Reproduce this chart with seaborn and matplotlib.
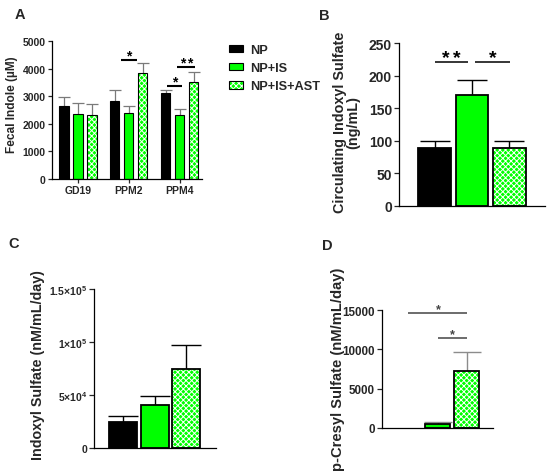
import numpy as np
import pandas as pd
import matplotlib
matplotlib.use("Agg")
import matplotlib.pyplot as plt
import seaborn as sns
from matplotlib.patches import Rectangle, Patch
from matplotlib.container import BarContainer
from matplotlib.legend_handler import HandlerTuple

# ---------------- data ----------------
treatments = ["NP", "NP+IS", "NP+IS+AST"]
timepoints = ["GD19", "PPM2", "PPM4"]

# Panel A: fecal indole (uM), mean and SEM per timepoint
a_np = [2630, 2810, 3130]
a_np_sem = [350, 400, 90]
a_is = [2355, 2400, 2330]
a_is_sem = [385, 240, 190]
a_ast = [2330, 3850, 3510]
a_ast_sem = [390, 360, 350]

# Panel B: circulating indoxyl sulfate (ng/mL)
b_mean = [89, 170, 89]
b_sem = [10, 23.5, 10]

# Panel C: indoxyl sulfate (nM/mL/day)
c_mean = [24800, 40600, 74200]
c_sem = [5100, 8800, 22700]

# Panel D: p-cresyl sulfate (nM/mL/day)
d_mean = [0, 550, 7240]
d_sem = [0, 200, 2460]

# significance annotations: (x start, x end, y, label)
a_sig = [(0.84, 1.15, 4320, "*"), (1.75, 2.05, 3380, "*"), (1.95, 2.29, 4070, "**")]
b_sig = [(0.01, 0.90, 221, "**"), (1.08, 2.01, 221, "*")]
d_sig = [(0.0, 2.03, 14600, "*"), (1.0, 2.03, 11400, "*")]

a_yticks = [0, 1000, 2000, 3000, 4000, 5000]
b_yticks = [0, 50, 100, 150, 200, 250]
c_yticks = [0, 50000, 100000, 150000]
c_yticklabels = ["0", r"5×10$^{4}$", r"1×10$^{5}$", r"1.5×10$^{5}$"]
d_yticks = [0, 5000, 10000, 15000]

# ---------------- style ----------------
sns.set_style("ticks")
plt.rcParams["font.family"] = ["Liberation Sans", "DejaVu Sans"]
plt.rcParams["font.weight"] = "bold"
plt.rcParams["axes.labelweight"] = "bold"
plt.rcParams["hatch.linewidth"] = 0.7
plt.rcParams["mathtext.fontset"] = "custom"
plt.rcParams["mathtext.rm"] = "Liberation Sans:bold"
plt.rcParams["mathtext.bf"] = "Liberation Sans:bold"
plt.rcParams["mathtext.it"] = "Liberation Sans:bold"
plt.rcParams["mathtext.default"] = "rm"

GREEN = "#00FF00"
palette = {"NP": "#000000", "NP+IS": GREEN, "NP+IS+AST": GREEN}
CHECK = "xxxxxx"

fig = plt.figure(figsize=(5.5, 4.77), dpi=100)
W, H = 550, 477


def axes_px(left, top, right, bottom):
    return fig.add_axes([left / W, 1 - bottom / H, (right - left) / W, (bottom - top) / H])


def finish_bars(ax, df, xcol, order, edge_lw, ecolor, elw, capsize):
    conts = [c for c in ax.containers if isinstance(c, BarContainer)]
    for ci, cont in enumerate(conts):
        level = treatments[ci]
        sub = df[df["treatment"] == level]
        for bar in cont:
            cx = bar.get_x() + bar.get_width() / 2
            idx = int(round(cx))
            xval = order[idx]
            row = sub[sub[xcol] == xval]
            if len(row) == 0:
                continue
            sem = float(row["sem"].iloc[0])
            h = bar.get_height()
            if h == 0:
                bar.set_visible(False)
                continue
            if level == "NP+IS+AST":
                bar.set_hatch(CHECK)
                bar.set_edgecolor("white")
                bar.set_linewidth(0)
                ax.add_patch(Rectangle(bar.get_xy(), bar.get_width(), h, fill=False,
                                       edgecolor="black", lw=edge_lw,
                                       zorder=bar.get_zorder() + 0.1))
            if sem > 0:
                eb = ax.errorbar([cx], [h], yerr=[[0], [sem]], fmt="none", ecolor=ecolor,
                                 elinewidth=elw, capsize=capsize, capthick=elw,
                                 zorder=bar.get_zorder() - 0.5)
                caps = eb[1]
                if len(caps) > 0:
                    caps[0].set_visible(False)


def style_axis(ax, lw=0.9):
    sns.despine(ax=ax)
    for s in ["left", "bottom"]:
        ax.spines[s].set_linewidth(lw)
        ax.spines[s].set_color("black")
    ax.set_xlabel("")


def sig(ax, items, color, lw, fs, spacing, dy):
    for x0, x1, y, lab in items:
        ax.plot([x0, x1], [y, y], color=color, lw=lw, solid_capstyle="butt")
        n = len(lab)
        mid = (x0 + x1) / 2
        for k in range(n):
            dx = (k - (n - 1) / 2) * spacing
            ax.annotate("*", xy=(mid, y), xytext=(dx, dy), textcoords="offset points",
                        ha="center", va="baseline", fontsize=fs, fontweight="bold",
                        color=color)


# ---------------- Panel A ----------------
dfa = pd.DataFrame({
    "time": timepoints * 3,
    "treatment": [t for t in treatments for _ in timepoints],
    "value": a_np + a_is + a_ast,
    "sem": a_np_sem + a_is_sem + a_ast_sem,
})
axA = axes_px(51.7, 42, 202, 180)
sns.barplot(data=dfa, x="time", y="value", hue="treatment", order=timepoints,
            hue_order=treatments, palette=palette, width=0.825, gap=0.35, saturation=1,
            errorbar=None, edgecolor="black", linewidth=0.8, legend=False, ax=axA)
finish_bars(axA, dfa, "time", timepoints, 0.8, "#7a7a7a", 0.9, 4.5)
axA.set_xlim(-0.517, 2.436)
axA.set_ylim(0, 5000)
axA.set_yticks(a_yticks)
axA.tick_params(axis="both", labelsize=7.5, length=3, width=0.9, pad=1.5)
style_axis(axA)
axA.set_ylabel("Fecal Indole (µM)", fontsize=8.6)
axA.yaxis.label.set_va("center")
axA.yaxis.set_label_coords(-0.262, 0.545)
sig(axA, a_sig, "black", 1.5, 10, 4.8, 0)

hA = [Patch(facecolor="black", edgecolor="black", lw=0.8),
      Patch(facecolor=GREEN, edgecolor="black", lw=0.8),
      (Patch(facecolor=GREEN, edgecolor="white", lw=0, hatch=CHECK),
       Patch(facecolor="none", edgecolor="black", lw=0.8))]
leg = fig.legend(hA, treatments, loc="upper left", bbox_to_anchor=(229 / W, 1 - 45 / H),
                 frameon=False, fontsize=9.2, handlelength=1.1, handleheight=0.55,
                 handletextpad=0.55, labelspacing=0.48, borderpad=0, borderaxespad=0,
                 handler_map={tuple: HandlerTuple(ndivide=1, pad=0)})

# ---------------- Panel B ----------------
dfb = pd.DataFrame({"treatment": treatments, "value": b_mean, "sem": b_sem})
axB = axes_px(399, 44, 545, 207)
sns.barplot(data=dfb, x="treatment", y="value", hue="treatment", order=treatments,
            hue_order=treatments, palette=palette, width=0.88, dodge=False, saturation=1,
            errorbar=None, edgecolor="black", linewidth=1.3, legend=False, ax=axB)
finish_bars(axB, dfb, "treatment", treatments, 1.3, "black", 1.0, 10.5)
axB.set_xlim(-0.95, 2.95)
axB.set_ylim(0, 250)
axB.set_yticks(b_yticks)
axB.set_xticks([])
axB.tick_params(axis="y", labelsize=10, length=3.5, width=0.9, pad=1.5)
style_axis(axB)
axB.set_ylabel("Circulating Indoxyl Sulfate\n(ng/mL)", fontsize=10.4, linespacing=0.95)
axB.yaxis.label.set_va("center")
axB.yaxis.set_label_coords(-0.356, 0.518)
sig(axB, b_sig, "black", 1.1, 14, 7.9, 0)

# ---------------- Panel C ----------------
dfc = pd.DataFrame({"treatment": treatments, "value": c_mean, "sem": c_sem})
axC = axes_px(94, 290, 216, 449)
sns.barplot(data=dfc, x="treatment", y="value", hue="treatment", order=treatments,
            hue_order=treatments, palette=palette, width=0.88, dodge=False, saturation=1,
            errorbar=None, edgecolor="black", linewidth=1.3, legend=False, ax=axC)
finish_bars(axC, dfc, "treatment", treatments, 1.3, "black", 1.0, 10.5)
axC.set_xlim(-0.91, 2.93)
axC.set_ylim(0, 150000)
axC.set_yticks(c_yticks)
axC.set_yticklabels(c_yticklabels)
axC.set_xticks([])
axC.tick_params(axis="y", labelsize=7.5, length=3.5, width=0.9, pad=1.5)
style_axis(axC)
axC.set_ylabel("Indoxyl Sulfate (nM/mL/day)", fontsize=10.3)
axC.yaxis.label.set_va("center")
axC.yaxis.set_label_coords(-0.459, 0.528)

# ---------------- Panel D ----------------
dfd = pd.DataFrame({"treatment": treatments, "value": d_mean, "sem": d_sem})
axD = axes_px(382, 311, 493, 429)
sns.barplot(data=dfd, x="treatment", y="value", hue="treatment", order=treatments,
            hue_order=treatments, palette=palette, width=0.86, dodge=False, saturation=1,
            errorbar=None, edgecolor="black", linewidth=1.3, legend=False, ax=axD)
finish_bars(axD, dfd, "treatment", treatments, 1.3, "#8c8c8c", 1.0, 10)
axD.set_xlim(-0.91, 2.91)
axD.set_ylim(0, 15000)
axD.set_yticks(d_yticks)
axD.set_xticks([])
axD.tick_params(axis="y", labelsize=8.4, length=3.5, width=0.9, pad=1.5)
style_axis(axD)
axD.set_ylabel("p-Cresyl Sulfate (nM/mL/day)", fontsize=10.6)
axD.yaxis.label.set_va("center")
axD.yaxis.set_label_coords(-0.396, 0.508)
sig(axD, d_sig, "#444444", 1.1, 9, 5, 1)

# ---------------- panel letters ----------------
for lab, (px, py) in {"A": (20, 15), "B": (324, 16), "C": (14, 244), "D": (327, 246)}.items():
    fig.text(px / W, 1 - py / H, lab, ha="center", va="center", fontsize=10.5, fontweight="bold")

fig.savefig("out.png", dpi=100)
